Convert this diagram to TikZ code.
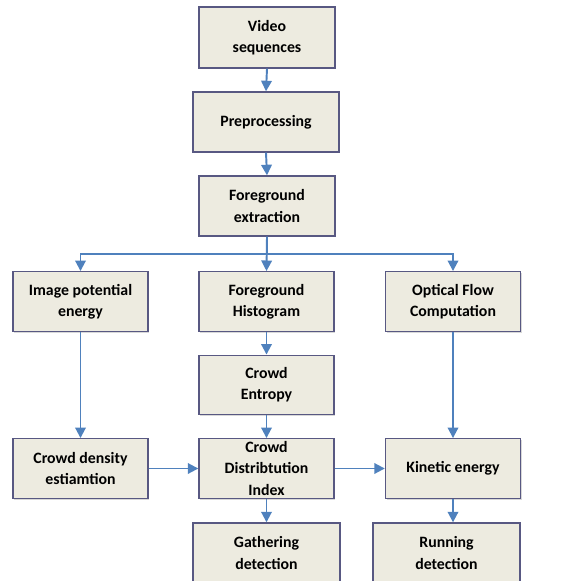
\documentclass[tikz,border=0pt]{standalone}
\usepackage{fontspec}
\setmainfont{Carlito}
\usetikzlibrary{arrows.meta, shadows}
\definecolor{boxfill}{RGB}{237, 235, 224}
\definecolor{boxedge}{RGB}{88, 88, 130}
\definecolor{flowblue}{RGB}{79, 129, 189}

\begin{document}
\begin{tikzpicture}[x=0.02cm, y=-0.02cm,
    stepbox/.style={draw=boxedge, line width=0.8pt, fill=boxfill, font=\fontsize{9}{12}\selectfont\bfseries, align=center, minimum width=2.7cm, minimum height=1.19cm, inner sep=1pt, drop shadow={shadow xshift=0.6pt, shadow yshift=-0.8pt, fill=gray!60}},
    flow/.style={-{Triangle[length=6pt, width=6pt]}, draw=flowblue, line width=1.1pt}]
  \useasboundingbox (0,0) rectangle (579,581);

  % Main column
  \node[stepbox, minimum width=2.72cm, minimum height=1.22cm] (video) at (267, 37.5) {Video\\sequences};
  \node[stepbox, minimum width=2.92cm, minimum height=1.2cm] (prep) at (266, 122) {Preprocessing};
  \node[stepbox, minimum width=2.72cm, minimum height=1.2cm] (fgext) at (267, 206) {Foreground\\extraction};

  \draw[flow] (video.south) -- (prep.north);
  \draw[flow] (prep.south) -- (fgext.north);

  % Three branches
  \node[stepbox] (ipe) at (80.5, 301.5) {Image potential\\energy};
  \node[stepbox] (fghist) at (266.5, 301.5) {Foreground\\Histogram};
  \node[stepbox] (optflow) at (453, 301.5) {Optical Flow\\Computation};

  \draw[flow] (fgext.south) -- ++(0,17) -| (ipe.north);
  \draw[flow] (fgext.south) -- (fghist.north);
  \draw[flow] (fgext.south) -- ++(0,17) -| (optflow.north);

  \node[stepbox] (entropy) at (266.5, 385) {Crowd\\Entropy};
  \draw[flow] (fghist.south) -- (entropy.north);

  % Lower row
  \node[stepbox] (density) at (80.5, 468.5) {Crowd density\\estiamtion};
  \node[stepbox] (cdi) at (266.5, 468.5) {Crowd\\Distribtution\\Index};
  \node[stepbox] (kinetic) at (453, 468.5) {Kinetic energy};

  \draw[flow] (ipe.south) -- (density.north);
  \draw[flow] (entropy.south) -- (cdi.north);
  \draw[flow] (optflow.south) -- (kinetic.north);
  \draw[flow] (density.east) -- (cdi.west);
  \draw[flow] (cdi.east) -- (kinetic.west);

  % Detection
  \node[stepbox, minimum width=2.94cm, minimum height=1.2cm] (gather) at (266.5, 553) {Gathering\\detection};
  \node[stepbox, minimum width=2.94cm, minimum height=1.2cm] (running) at (446.5, 553) {Running\\detection};

  \draw[flow] (cdi.south) -- (gather.north);
  \draw[flow] (kinetic.south) -- (kinetic.south |- running.north);
\end{tikzpicture}
\end{document}
